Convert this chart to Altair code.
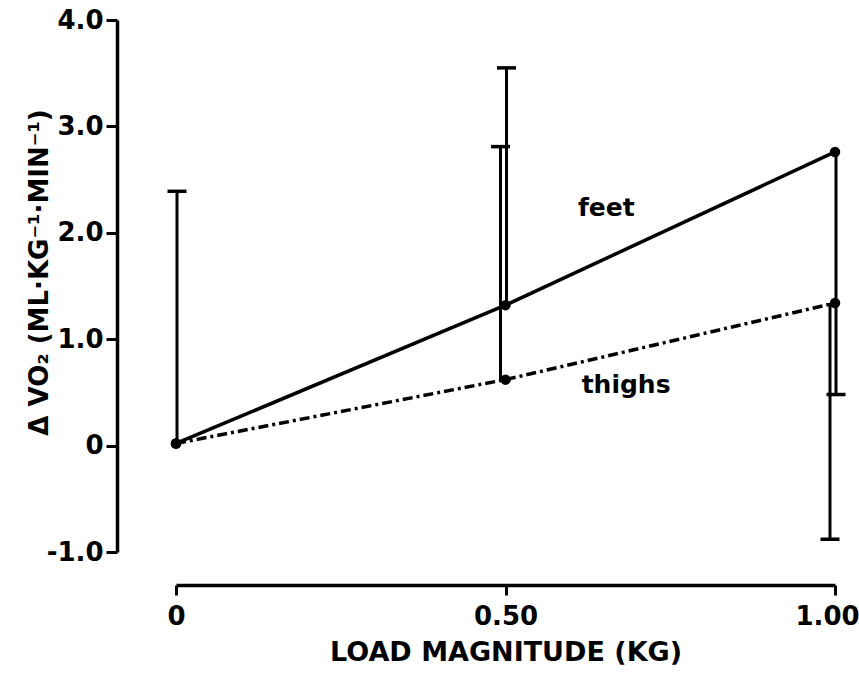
import altair as alt
import pandas as pd

# Load on the limb (kg) and change in oxygen uptake (ml/kg/min), mean and SD
load_kg = [0.0, 0.5, 1.0]
feet_mean = [0.02, 1.32, 2.76]
thighs_mean = [0.02, 0.62, 1.34]
feet_sd = [2.37, 2.23, 2.28]
thighs_sd = [2.37, 2.19, 2.22]
bar_side = [1, 1, -1]  # +1 draws the SD bar upward, -1 downward

series_names = ["feet", "thighs"]
label_load = [0.653, 0.683]
label_value = [2.23, 0.57]

rows = []
for name, means, sds in (("feet", feet_mean, feet_sd), ("thighs", thighs_mean, thighs_sd)):
    for x, m, s, side in zip(load_kg, means, sds, bar_side):
        rows.append({"series": name, "load": x, "mean": m, "sd": s, "end": m + side * s})
df = pd.DataFrame(rows)
labels = pd.DataFrame({"series": series_names, "load": label_load, "mean": label_value})

FONT = "DejaVu Sans"

x_axis = alt.Axis(
    values=[0, 0.5, 1.0],
    labelExpr="datum.value === 0 ? '0' : format(datum.value, '.2f')",
    labelFlush=False,
    labelOffset=alt.ConditionalAxisNumber(
        condition={"test": "datum.value === 1", "value": -8}, value=0
    ),
    offset=33,
    grid=False,
    domainWidth=3.5,
    tickWidth=3,
    tickSize=10,
    labelPadding=8,
    labelFontSize=26,
    labelFontWeight="bold",
    labelFont=FONT,
    title="LOAD MAGNITUDE (KG)",
    titleFontSize=27,
    titleFontWeight="bold",
    titleFont=FONT,
    titlePadding=10,
)
y_axis = alt.Axis(
    values=[-1, 0, 1, 2, 3, 4],
    labelExpr="datum.value === 0 ? '0' : (datum.value < 0 ? '-' + format(-datum.value, '.1f') : format(datum.value, '.1f'))",
    offset=59,
    grid=False,
    domainWidth=3.5,
    tickWidth=3,
    tickSize=11,
    labelPadding=3,
    labelFontSize=26,
    labelFontWeight="bold",
    labelFont=FONT,
    title="Δ VO₂  (ML·KG⁻¹·MIN⁻¹)",
    titleFontSize=26,
    titleFontWeight="bold",
    titleFont=FONT,
    titleAngle=270,
    titleX=-70,
    titleY=252,
    titleAlign="center",
    titleBaseline="alphabetic",
)
xs = alt.Scale(domain=[0, 1], nice=False, zero=False)
ys = alt.Scale(domain=[-1, 4], nice=False, zero=False)


def X():
    return alt.X("load:Q", scale=xs, axis=x_axis)


def Y(field="mean"):
    return alt.Y(f"{field}:Q", scale=ys, axis=y_axis)


feet = df[df.series == "feet"]
thighs = df[df.series == "thighs"]

feet_line = alt.Chart(feet).mark_line(color="black", strokeWidth=3.5).encode(x=X(), y=Y())
thighs_line = alt.Chart(thighs).mark_line(
    color="black", strokeWidth=3.5, strokeDash=[10, 4, 3, 4]
).encode(x=X(), y=Y())

points = alt.Chart(df).mark_circle(color="black", size=110, opacity=1).encode(x=X(), y=Y())

feet_bars = alt.Chart(feet).mark_rule(color="black", strokeWidth=3, xOffset=1).encode(
    x=X(), y=Y(), y2="end:Q"
)
feet_caps = alt.Chart(feet).mark_tick(
    color="black", orient="horizontal", size=19, thickness=3.5, xOffset=1, opacity=1
).encode(x=X(), y=Y("end"))

thighs_sub = thighs[thighs.load > 0]
thighs_bars = alt.Chart(thighs_sub).mark_rule(color="black", strokeWidth=3, xOffset=-5).encode(
    x=X(), y=Y(), y2="end:Q"
)
thighs_caps = alt.Chart(thighs_sub).mark_tick(
    color="black", orient="horizontal", size=19, thickness=3.5, xOffset=-5, opacity=1
).encode(x=X(), y=Y("end"))

text = alt.Chart(labels).mark_text(
    font=FONT, fontSize=25, fontWeight="bold", color="black", align="center", baseline="middle"
).encode(x=X(), y=Y(), text="series:N")

chart = (
    alt.layer(feet_line, thighs_line, feet_bars, thighs_bars, feet_caps, thighs_caps, points, text)
    .properties(
        width=659,
        height=532,
        autosize=alt.AutoSizeParams(type="none"),
        padding={"left": 176, "top": 20, "right": 24, "bottom": 124},
        background="white",
    )
    .configure_view(stroke=None)
    .configure_axis(domainColor="black", tickColor="black", labelColor="black", titleColor="black")
)

chart.save("out.html", embed_options={"renderer": "svg", "actions": False})
